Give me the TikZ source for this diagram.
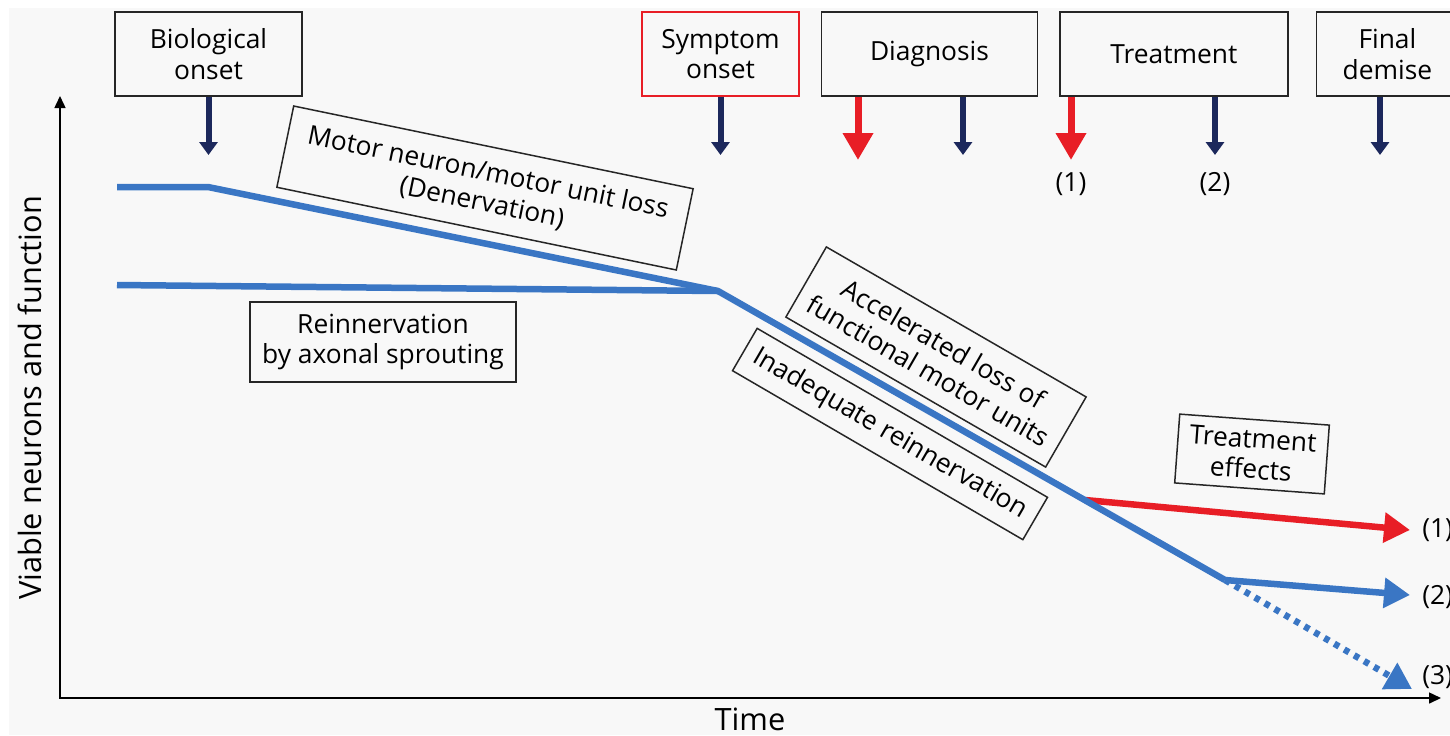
\documentclass[tikz,border=0pt]{standalone}
\usepackage{fontspec}
\setmainfont{Open Sans}
\usepackage{tikz}
\usetikzlibrary{arrows.meta,calc,positioning}
\definecolor{navy}{RGB}{28,40,92}
\definecolor{lineblue}{RGB}{58,118,196}
\definecolor{alarmred}{RGB}{232,30,38}
\definecolor{paper}{RGB}{248,248,248}
\tikzstyle{eventbox}=[
  draw=black!85,
  line width=0.03cm,
  font={\fontsize{15}{17.5}\selectfont},
  align=center,
  inner sep=0pt,
  minimum height=1.68cm,
  rectangle,
]
\tikzstyle{notebox}=[
  draw=black!85,
  line width=0.03cm,
  font={\fontsize{15}{17.5}\selectfont},
  align=center,
  inner sep=0pt,
  rectangle,
]
\tikzstyle{navyarrow}=[
  draw=navy,
  line width=0.12cm,
  -{Triangle[length=0.26cm,width=0.36cm]},
]
\tikzstyle{redarrow}=[
  draw=alarmred,
  line width=0.14cm,
  -{Triangle[length=0.54cm,width=0.58cm]},
]
\tikzstyle{course}=[
  draw=lineblue,
  line width=0.13cm,
  line join=round,
]
\tikzstyle{outcome}=[
  line width=0.13cm,
  -{Triangle[length=0.52cm,width=0.58cm]},
]
\tikzstyle{axis}=[
  draw=black,
  line width=0.03cm,
  {Triangle[length=0.24cm,width=0.22cm]}-{Triangle[length=0.24cm,width=0.22cm]},
]
\tikzstyle{plain}=[
  font={\fontsize{15}{17.5}\selectfont},
  inner sep=0pt,
]
\tikzstyle{axislabel}=[
  font={\fontsize{17.5}{20}\selectfont},
  inner sep=0pt,
]
\tikzset{
  x=0.02cm,
  y=-0.02cm,
}

\begin{document}
\begin{tikzpicture}
  \clip (0,0) rectangle (1450,735);
  \fill [paper] (9,8) rectangle (1450,735);
  %% top events
  \node (bioonset) [eventbox, minimum width=3.74cm] at (208.5,54) {Biological\\onset};
  \node (symonset) [eventbox, draw=alarmred, minimum width=3.14cm] at (720.5,54) {Symptom\\onset};
  \node (diagnosis) [eventbox, minimum width=4.32cm, right=0.42cm of symonset] {Diagnosis};
  \node (treatment) [eventbox, minimum width=4.56cm, right=0.42cm of diagnosis] {Treatment};
  \node (demise) [eventbox, minimum width=2.84cm, right=0.54cm of treatment] {Final\\demise};
  %%
  \coordinate (A) at (208.5,155);
  \coordinate (B) at (720.5,155);
  \coordinate (C) at (858,160);
  \coordinate (D) at (963,155);
  \coordinate (E) at (1071,160);
  \coordinate (F) at (1215,155);
  \coordinate (G) at (1380,155);
  \draw [navyarrow] (bioonset) -- (A);
  \draw [navyarrow] (symonset) -- (B);
  \draw [redarrow] (C|-diagnosis.south) -- (C);
  \draw [navyarrow] (D|-diagnosis.south) -- (D);
  \draw [redarrow] (E|-treatment.south) -- (E);
  \draw [navyarrow] (F|-treatment.south) -- (F);
  \draw [navyarrow] (G|-demise.south) -- (G);
  \node (treatA) [plain] at ($(E)+(0,24)$) {(1)};
  \node (treatB) [plain] at ($(F)+(0,29)$) {(2)};
  %% axes
  \coordinate (O) at (60,698);
  \coordinate (Ytop) at (60,96);
  \coordinate (Xend) at (1441,698);
  \draw [axis] (Ytop) -- (O) -- (Xend);
  \node (timelabel) [axislabel] at (750,719) {Time};
  \node (ylabel) [axislabel, rotate=90] at (30,398) {Viable neurons and function};
  %% disease course
  \coordinate (P0) at (117,187);
  \coordinate (P1) at (208,187);
  \coordinate (P2) at (718,291);
  \coordinate (P3) at (1085,500);
  \coordinate (P4) at (1225,580);
  \coordinate (Q0) at (117,285);
  \coordinate (R1) at (1410,530);
  \coordinate (R2) at (1410,595);
  \coordinate (R3) at (1412,689);
  \draw [outcome, draw=alarmred, fill=alarmred] (P3) -- (R1);
  \draw [course] (P0) -- (P1) -- (P2) -- (P4);
  \draw [course] (Q0) -- (P2);
  \draw [outcome, draw=lineblue] (P4) -- (R2);
  \draw [outcome, draw=lineblue, dash pattern=on 0.11cm off 0.12cm] (P4) -- (R3);
  \node (endA) [plain, anchor=west] at (1422,530) {(1)};
  \node (endB) [plain, anchor=west] at (1422,597) {(2)};
  \node (endC) [plain, anchor=west] at (1422,677) {(3)};
  %% notes
  \node (denerv) [notebox, rotate=-11.7, minimum width=8.16cm, minimum height=1.66cm] at (485,188) {Motor neuron/motor unit loss\\(Denervation)};
  \node (sprout) [notebox, minimum width=5.32cm, minimum height=1.6cm] at (383,342) {Reinnervation\\by axonal sprouting};
  \node (accel) [notebox, rotate=-30, minimum width=6cm, minimum height=1.62cm] at (936,357) {Accelerated loss of\\functional motor units};
  \node (inadeq) [notebox, rotate=-30.2, minimum width=6.72cm, minimum height=0.98cm] at (890,434) {Inadequate reinnervation};
  \node (effects) [notebox, rotate=-4.2, minimum width=3cm, minimum height=1.38cm] at (1252,454) {Treatment\\effects};
\end{tikzpicture}
\end{document}
